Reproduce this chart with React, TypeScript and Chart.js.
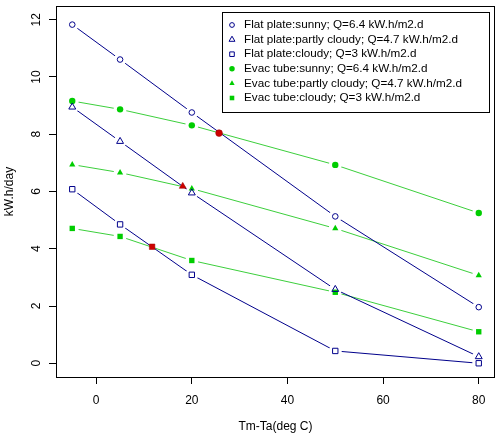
import { useEffect, useRef } from "react"
import { Chart, registerables } from "chart.js"

Chart.register(...registerables)

// x positions (Tm-Ta, deg C)
const xValues = [-5, 5, 20, 50, 80]

// kW.h/day
const flatSunny = [11.83, 10.61, 8.76, 5.13, 1.96]
const flatPartly = [8.95, 7.75, 5.95, 2.58, 0.23]
const flatCloudy = [6.08, 4.85, 3.09, 0.43, 0.0]
const evacSunny = [9.16, 8.87, 8.31, 6.93, 5.25]
const evacPartly = [6.94, 6.66, 6.1, 4.71, 3.07]
const evacCloudy = [4.71, 4.43, 3.59, 2.48, 1.1]

// red points where flat plate and evac tube curves cross
const crossX = [25.7, 18.1, 11.7]
const crossY = [8.04, 6.18, 4.07]
const crossStyles = ["circle", "triangle", "rect"]

const xTicks = [0, 20, 40, 60, 80]
const yTicks = [0, 2, 4, 6, 8, 10, 12]

const seriesLabels = [
  "Flat plate:sunny; Q=6.4 kW.h/m2.d",
  "Flat plate:partly cloudy; Q=4.7 kW.h/m2.d",
  "Flat plate:cloudy; Q=3 kW.h/m2.d",
  "Evac tube:sunny; Q=6.4 kW.h/m2.d",
  "Evac tube:partly cloudy; Q=4.7 kW.h/m2.d",
  "Evac tube:cloudy; Q=3 kW.h/m2.d",
]

const NAVY = "#00008B"
const GREEN = "#00CD00"
const GREEN_LINE = "#3ccf3c"
const RED = "#CD0000"
const FONT = "'Liberation Sans', Arial, Helvetica, sans-serif"
const GAP = 6.5 // R type="b": line stops short of each point

const series = [
  { label: seriesLabels[0], data: flatSunny, color: NAVY, line: NAVY, style: "circle", radius: 2.8, open: true },
  { label: seriesLabels[1], data: flatPartly, color: NAVY, line: NAVY, style: "triangle", radius: 4, open: true },
  { label: seriesLabels[2], data: flatCloudy, color: NAVY, line: NAVY, style: "rect", radius: 3.8, open: true },
  { label: seriesLabels[3], data: evacSunny, color: GREEN, line: GREEN_LINE, style: "circle", radius: 3.2, open: false },
  { label: seriesLabels[4], data: evacPartly, color: GREEN, line: GREEN_LINE, style: "triangle", radius: 3.6, open: false },
  { label: seriesLabels[5], data: evacCloudy, color: GREEN, line: GREEN_LINE, style: "rect", radius: 3.8, open: false },
]

function drawMarker(ctx: CanvasRenderingContext2D, style: string, x: number, y: number, r: number, color: string, open: boolean) {
  ctx.beginPath()
  if (style === "circle") {
    ctx.arc(x, y, r, 0, Math.PI * 2)
  } else if (style === "triangle") {
    ctx.moveTo(x, y - r)
    ctx.lineTo(x + r * 0.866, y + r * 0.5)
    ctx.lineTo(x - r * 0.866, y + r * 0.5)
    ctx.closePath()
  } else {
    const s = r * Math.SQRT1_2
    ctx.rect(x - s, y - s, s * 2, s * 2)
  }
  if (open) {
    ctx.strokeStyle = color
    ctx.lineWidth = 1
    ctx.stroke()
  } else {
    ctx.fillStyle = color
    ctx.fill()
  }
}

// cut a hole round each point of the line-only datasets, like R's type = "b"
const gapPlugin = {
  id: "gaps",
  beforeDatasetDraw(chart: any, args: any) {
    const ds = chart.data.datasets[args.index]
    if (!ds.gapLine) return
    const { ctx, width, height } = chart
    ctx.save()
    ctx.beginPath()
    ctx.rect(0, 0, width, height)
    for (const pt of args.meta.data) {
      ctx.moveTo(pt.x + GAP, pt.y)
      ctx.arc(pt.x, pt.y, GAP, 0, Math.PI * 2)
    }
    ctx.clip("evenodd")
  },
  afterDatasetDraw(chart: any, args: any) {
    const ds = chart.data.datasets[args.index]
    if (!ds.gapLine) return
    chart.ctx.restore()
  },
}

const decorPlugin = {
  id: "decor",
  afterDraw(chart: any) {
    const { ctx, chartArea: a, scales } = chart
    ctx.save()

    // box round the plot region
    ctx.strokeStyle = "#000"
    ctx.lineWidth = 1
    ctx.strokeRect(a.left + 0.5, a.top + 0.5, a.right - a.left - 1, a.bottom - a.top)

    ctx.fillStyle = "#000"
    ctx.font = `12px ${FONT}`
    ctx.textAlign = "center"
    ctx.textBaseline = "middle"

    // y tick labels, rotated like R's default
    for (const v of yTicks) {
      const y = scales.y.getPixelForValue(v)
      ctx.save()
      ctx.translate(a.left - 19, y)
      ctx.rotate(-Math.PI / 2)
      ctx.fillText(String(v), 0, 0)
      ctx.restore()
    }

    // axis titles
    ctx.save()
    ctx.translate(10, (a.top + a.bottom) / 2)
    ctx.rotate(-Math.PI / 2)
    ctx.fillText("kW.h/day", 0, 0)
    ctx.restore()
    ctx.fillText("Tm-Ta(deg C)", (a.left + a.right) / 2, 427)

    // legend
    const boxL = a.left + 166
    const boxT = a.top + 6
    const boxR = a.right - 6
    const boxB = boxT + 100
    ctx.fillStyle = "#fff"
    ctx.fillRect(boxL, boxT, boxR - boxL, boxB - boxT)
    ctx.strokeStyle = "#000"
    ctx.strokeRect(boxL + 0.5, boxT + 0.5, boxR - boxL, boxB - boxT)
    ctx.textAlign = "left"
    ctx.font = `11.7px ${FONT}`
    series.forEach((s, i) => {
      const y = boxT + 13 + i * 14.6
      drawMarker(ctx, s.style, boxL + 10, y, s.radius * 0.85, s.color, s.open)
      ctx.fillStyle = "#000"
      ctx.fillText(s.label, boxL + 22, y)
    })

    ctx.restore()
  },
}

export default function App() {
  const chartRef = useRef<HTMLCanvasElement>(null)
  const chartInstance = useRef<Chart | null>(null)

  useEffect(() => {
    if (!chartRef.current) return

    if (chartInstance.current) {
      chartInstance.current.destroy()
    }

    const ctx = chartRef.current.getContext("2d")
    if (!ctx) return

    const points = (s: (typeof series)[number]) => xValues.map((x, i) => ({ x, y: s.data[i] }))

    // markers only
    const markerSets = series.map((s) => ({
      label: s.label,
      data: points(s),
      showLine: false,
      pointStyle: s.style,
      pointRadius: s.radius,
      pointBorderWidth: s.open ? 1 : 0,
      pointBorderColor: s.color,
      pointBackgroundColor: s.open ? "transparent" : s.color,
    }))

    // lines only, with gaps cut by gapPlugin
    const lineSets = series.map((s) => ({
      label: s.label + " line",
      gapLine: true,
      data: points(s),
      borderColor: s.line,
      borderWidth: 1,
      pointRadius: 0,
      tension: 0,
      fill: false,
    }))

    chartInstance.current = new Chart(ctx, {
      type: "line",
      data: {
        // first dataset is drawn last (on top)
        datasets: [
          {
            label: "crossings",
            data: crossX.map((x, i) => ({ x, y: crossY[i] })),
            showLine: false,
            pointStyle: crossStyles as any,
            pointRadius: [3.4, 4, 3.9],
            pointBackgroundColor: RED,
            pointBorderColor: "#a00000",
            pointBorderWidth: 0.5,
          },
          ...markerSets,
          ...lineSets,
        ] as any,
      },
      options: {
        animation: false,
        responsive: true,
        maintainAspectRatio: false,
        layout: {
          padding: { top: 6, right: 5, left: 0, bottom: 0 },
        },
        plugins: {
          legend: { display: false },
          tooltip: { enabled: false },
        },
        scales: {
          x: {
            type: "linear",
            min: -8.4,
            max: 83.4,
            afterBuildTicks: (scale: any) => {
              scale.ticks = xTicks.map((v) => ({ value: v }))
            },
            afterFit: (scale: any) => {
              scale.height = 60
            },
            grid: {
              drawOnChartArea: false,
              drawTicks: true,
              tickLength: 7,
              color: "#000",
            },
            border: { display: false },
            ticks: {
              color: "#000",
              font: { family: FONT, size: 12 },
              padding: 9,
              maxRotation: 0,
            },
          },
          y: {
            type: "linear",
            min: -0.48,
            max: 12.48,
            afterBuildTicks: (scale: any) => {
              scale.ticks = yTicks.map((v) => ({ value: v }))
            },
            afterFit: (scale: any) => {
              scale.width = 56
            },
            grid: {
              drawOnChartArea: false,
              drawTicks: true,
              tickLength: 7,
              color: "#000",
            },
            border: { display: false },
            ticks: { display: false },
          },
        },
      },
      plugins: [gapPlugin, decorPlugin],
    })

    return () => {
      if (chartInstance.current) {
        chartInstance.current.destroy()
        chartInstance.current = null
      }
    }
  }, [])

  return (
    <div style={{ position: "fixed", left: 0, top: 0, width: 500, height: 437, background: "#fff" }}>
      <canvas ref={chartRef} />
    </div>
  )
}
